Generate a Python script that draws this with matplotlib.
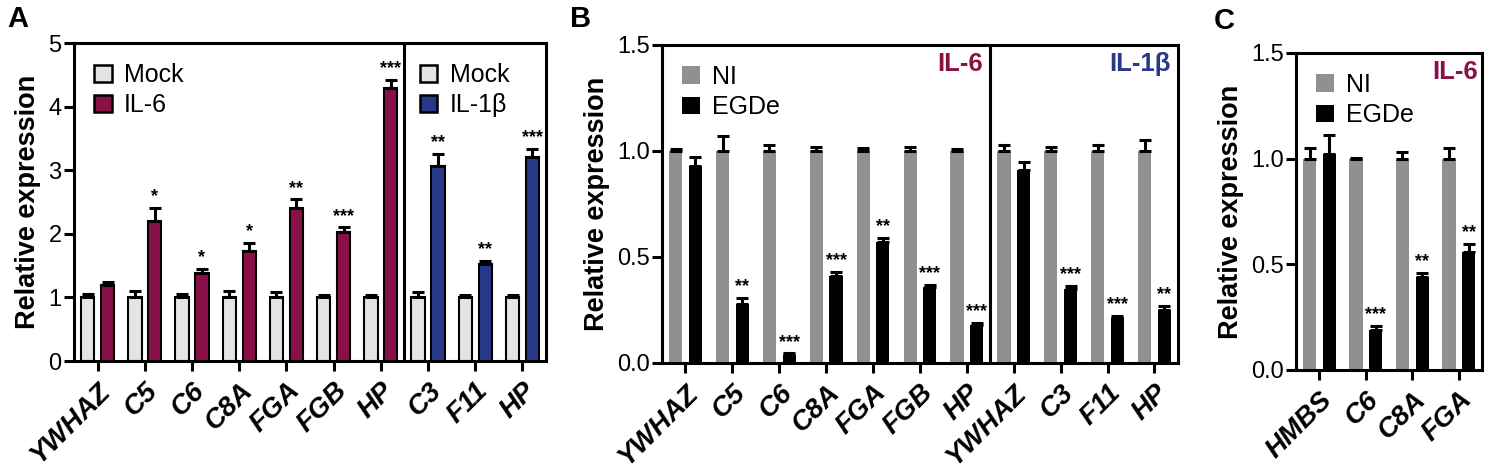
import numpy as np
import matplotlib.pyplot as plt
from matplotlib.patches import Patch

plt.rcParams['font.family'] = ['Liberation Sans', 'DejaVu Sans']

# panel A data
genes_a = ['YWHAZ', 'C5', 'C6', 'C8A', 'FGA', 'FGB', 'HP', 'C3', 'F11', 'HP']
mock_a = [1.0, 1.0, 1.0, 1.0, 1.0, 1.0, 1.0, 1.0, 1.0, 1.0]
mock_a_err = [0.05, 0.1, 0.05, 0.1, 0.08, 0.04, 0.03, 0.08, 0.03, 0.03]
treat_a = [1.2, 2.2, 1.38, 1.73, 2.4, 2.03, 4.3, 3.07, 1.52, 3.2]
treat_a_err = [0.05, 0.2, 0.07, 0.13, 0.14, 0.07, 0.12, 0.18, 0.05, 0.13]
stars_a = ['', '*', '*', '*', '**', '***', '***', '**', '**', '***']

# panel B data
genes_b = ['YWHAZ', 'C5', 'C6', 'C8A', 'FGA', 'FGB', 'HP', 'YWHAZ', 'C3', 'F11', 'HP']
ni_b = [1.0] * 11
ni_b_err = [0.01, 0.07, 0.03, 0.02, 0.015, 0.02, 0.01, 0.03, 0.02, 0.03, 0.05]
egde_b = [0.93, 0.28, 0.04, 0.41, 0.57, 0.36, 0.18, 0.91, 0.35, 0.21, 0.25]
egde_b_err = [0.04, 0.025, 0.005, 0.02, 0.02, 0.01, 0.008, 0.04, 0.015, 0.01, 0.02]
stars_b = ['', '**', '***', '***', '**', '***', '***', '', '***', '***', '**']

# panel C data
genes_c = ['HMBS', 'C6', 'C8A', 'FGA']
ni_c = [1.0, 1.0, 1.0, 1.0]
ni_c_err = [0.05, 0.005, 0.03, 0.05]
egde_c = [1.02, 0.19, 0.44, 0.56]
egde_c_err = [0.09, 0.02, 0.02, 0.035]
stars_c = ['', '***', '**', '**']

MAROON = '#8a1048'
NAVY = '#28398a'
MOCK = '#e4e4e4'
GREY = '#8f9091'

fig = plt.figure(figsize=(14.89, 4.70), dpi=100)
axA = fig.add_axes([0.0497, 0.2319, 0.317, 0.6766])
axB = fig.add_axes([0.4446, 0.2277, 0.3465, 0.6766])
axC = fig.add_axes([0.8704, 0.2128, 0.1249, 0.6745])

W = 0.28
OFF = 0.21
LW = 2.2
LEG = dict(loc='upper left', frameon=False, fontsize=18, handlelength=0.7,
           handleheight=0.7, handletextpad=0.5, labelspacing=0.25, borderaxespad=0.4)


def style_axes(ax, labels, ylim, yticks, ylabels):
    x = np.arange(len(labels))
    ax.set_xlim(-0.5, len(labels) - 0.5)
    ax.set_ylim(*ylim)
    ax.set_yticks(yticks)
    ax.set_yticklabels(ylabels, fontsize=17)
    ax.set_xticks(x)
    ax.set_xticklabels(labels, rotation=45, ha='right', rotation_mode='anchor',
                       fontsize=20, fontweight='bold', fontstyle='italic')
    for s in ax.spines.values():
        s.set_linewidth(LW)
    ax.tick_params(width=LW, length=7, pad=2)
    ax.tick_params(axis='x', pad=5)
    ax.set_ylabel('Relative expression', fontsize=19.5, fontweight='bold', labelpad=5)


def stars(ax, xs, tops, marks):
    for x, t, m in zip(xs, tops, marks):
        if m:
            ax.annotate(m, (x, t), xytext=(0, 2), textcoords='offset points',
                        ha='center', va='bottom', fontsize=13, fontweight='bold')


errkw = dict(elinewidth=LW, capthick=LW, capsize=4, ecolor='black')

# ---- A ----
x = np.arange(len(genes_a))
treat_colors = [MAROON] * 7 + [NAVY] * 3
axA.bar(x - OFF, mock_a, W, color=MOCK, edgecolor='black', linewidth=1.5,
        yerr=[np.zeros(10), mock_a_err], error_kw=errkw)
axA.bar(x + OFF, treat_a, W, color=treat_colors, edgecolor='black', linewidth=1.5,
        yerr=[np.zeros(10), treat_a_err], error_kw=errkw)
stars(axA, x + OFF, np.array(treat_a) + np.array(treat_a_err), stars_a)
axA.axvline(6.5, color='black', linewidth=LW)
style_axes(axA, genes_a, (0, 5), range(6), [str(i) for i in range(6)])
leg1 = axA.legend(handles=[Patch(facecolor=MOCK, edgecolor='black', linewidth=1.8, label='Mock'),
                           Patch(facecolor=MAROON, edgecolor='black', linewidth=1.8, label='IL-6')],
                  bbox_to_anchor=(0.0, 1.0), **LEG)
axA.add_artist(leg1)
axA.legend(handles=[Patch(facecolor=MOCK, edgecolor='black', linewidth=1.8, label='Mock'),
                    Patch(facecolor=NAVY, edgecolor='black', linewidth=1.8, label='IL-1β')],
           bbox_to_anchor=(0.69, 1.0), **LEG)

# ---- B ----
x = np.arange(len(genes_b))
axB.bar(x - OFF, ni_b, W, color=GREY, yerr=[np.zeros(11), ni_b_err], error_kw=errkw)
axB.bar(x + OFF, egde_b, W, color='black', yerr=[np.zeros(11), egde_b_err], error_kw=errkw)
stars(axB, x + OFF, np.array(egde_b) + np.array(egde_b_err), stars_b)
axB.axvline(6.5, color='black', linewidth=LW)
style_axes(axB, genes_b, (0, 1.5), [0, 0.5, 1.0, 1.5], ['0.0', '0.5', '1.0', '1.5'])
axB.legend(handles=[Patch(facecolor=GREY, label='NI'), Patch(facecolor='black', label='EGDe')],
           bbox_to_anchor=(0.0, 1.0), **LEG)
axB.text(6.35, 1.41, 'IL-6', color=MAROON, fontsize=18.5, fontweight='bold', ha='right', va='center')
axB.text(10.35, 1.41, 'IL-1β', color=NAVY, fontsize=18.5, fontweight='bold', ha='right', va='center')

# ---- C ----
x = np.arange(len(genes_c))
axC.bar(x - OFF, ni_c, W, color=GREY, yerr=[np.zeros(4), ni_c_err], error_kw=errkw)
axC.bar(x + OFF, egde_c, W, color='black', yerr=[np.zeros(4), egde_c_err], error_kw=errkw)
stars(axC, x + OFF, np.array(egde_c) + np.array(egde_c_err), stars_c)
style_axes(axC, genes_c, (0, 1.5), [0, 0.5, 1.0, 1.5], ['0.0', '0.5', '1.0', '1.5'])
axC.legend(handles=[Patch(facecolor=GREY, label='NI'), Patch(facecolor='black', label='EGDe')],
           bbox_to_anchor=(0.0, 1.0), **LEG)
axC.text(3.42, 1.41, 'IL-6', color=MAROON, fontsize=18.5, fontweight='bold', ha='right', va='center')

# panel letters
fig.text(0.005, 0.99, 'A', fontsize=21, fontweight='bold', va='top')
fig.text(0.383, 0.99, 'B', fontsize=21, fontweight='bold', va='top')
fig.text(0.815, 0.985, 'C', fontsize=21, fontweight='bold', va='top')

fig.savefig('out.png', dpi=100)
plt.close(fig)
